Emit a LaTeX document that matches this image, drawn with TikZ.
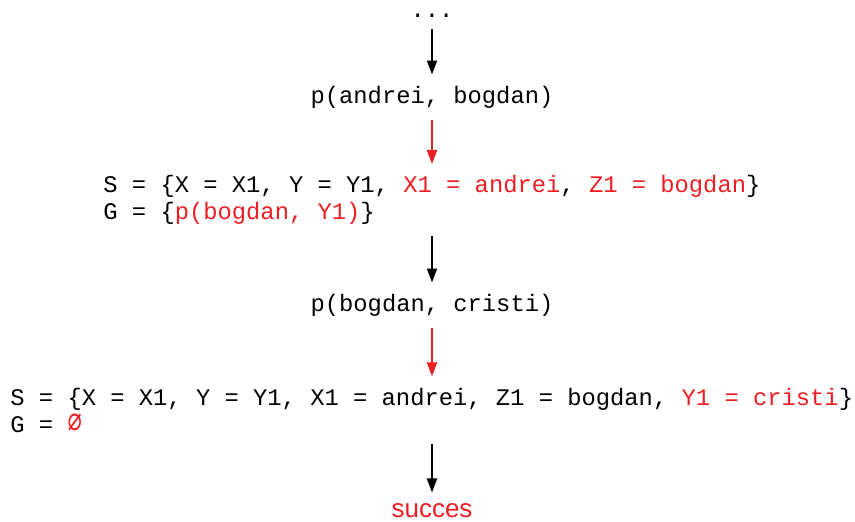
\documentclass[tikz,border=0pt]{standalone}
\usepackage{fontspec}
\setmonofont{Liberation Mono}
\setsansfont{Liberation Sans}
\newfontfamily\symfont{DejaVu Sans Mono}
\usepackage{xcolor}
\usetikzlibrary{arrows.meta}
\definecolor{unifred}{RGB}{235,30,35}
\newcommand{\rd}[1]{\textcolor{unifred}{#1}}

\begin{document}
\begin{tikzpicture}[x=0.5pt, y=-0.5pt,
	term/.style={font=\fontsize{11.9}{13.5}\selectfont\ttfamily, inner sep=0pt},
	state/.style={term, anchor=west, align=left},
	arr/.style={-{Triangle[length=7pt, width=5pt]}, line width=1pt,
		shorten <=5.5pt, shorten >=5.5pt},
	redarr/.style={arr, draw=unifred, fill=unifred},
	]
	\useasboundingbox (0,0) rectangle (855,521);
	\node[term] (dots)   at (432,16) {...};
	\node[term] (goal1)  at (432,97) {p(andrei, bogdan)};
	\node[state] (subst1) at (103,200)
	{S = \{X = X1, Y = Y1, \rd{X1 = andrei}, \rd{Z1 = bogdan}\}\\
	 G = \{\rd{p(bogdan, Y1)}\}};
	\node[term] (goal2)  at (432,305) {p(bogdan, cristi)};
	\node[state] (subst2) at (10,410)
	{S = \{X = X1, Y = Y1, X1 = andrei, Z1 = bogdan, \rd{Y1 = cristi}\}\\
	 G = \rd{\scalebox{1}[1.35]{\symfont ∅}}};
	\node[font=\fontsize{13}{15}\selectfont\sffamily, text=unifred, inner sep=0pt]
	(succes) at (432,511) {succes};
	\draw[arr]    (dots) -- (goal1);
	\draw[redarr] (goal1) -- (goal1 |- subst1.north);
	\draw[arr]    (goal1 |- subst1.south) -- (goal2);
	\draw[redarr] (goal2) -- (goal2 |- subst2.north);
	\draw[arr]    (goal2 |- subst2.south) -- (succes);
\end{tikzpicture}
\end{document}
